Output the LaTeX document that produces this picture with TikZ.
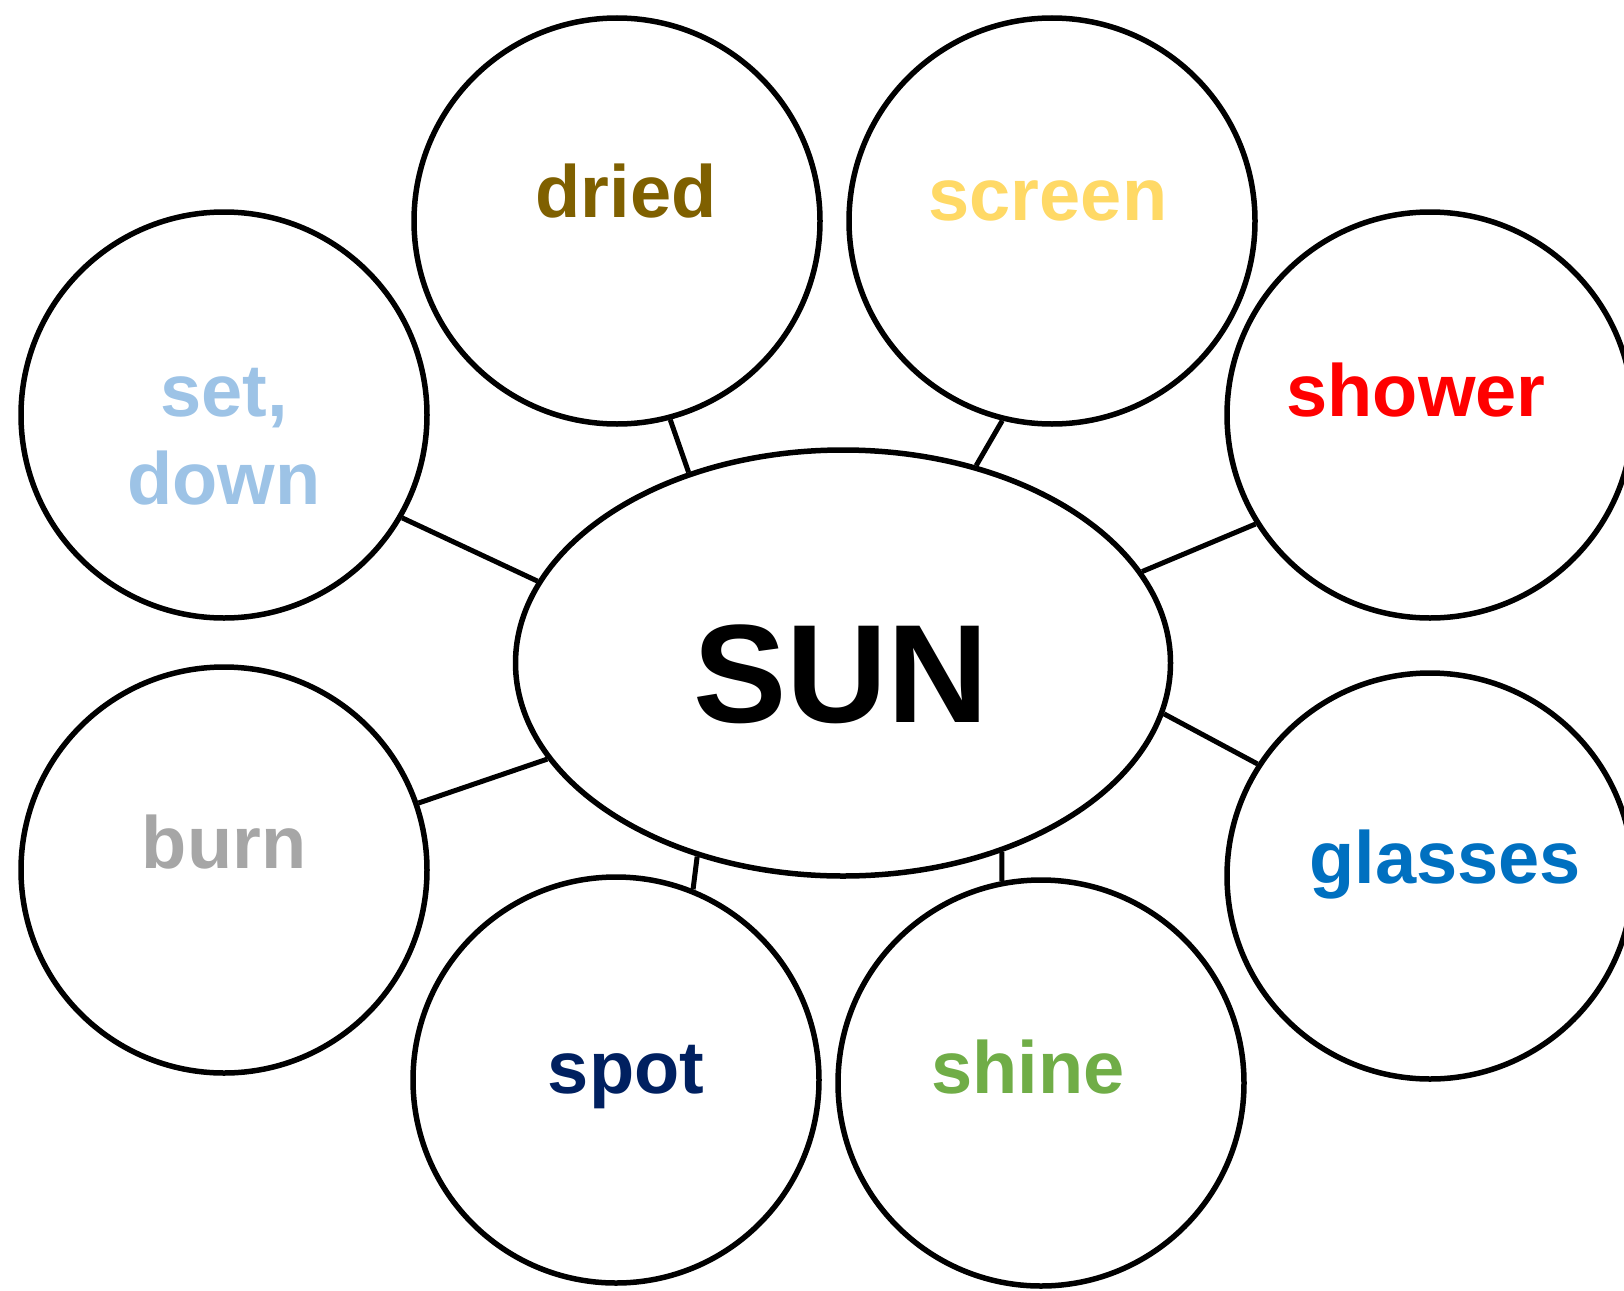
\documentclass[tikz,border=0pt]{standalone}
\usepackage{fontspec}
\setmainfont{Liberation Sans}
\usetikzlibrary{shapes.geometric}
\definecolor{cdried}{HTML}{7F6000}
\definecolor{cscreen}{HTML}{FFD966}
\definecolor{cset}{HTML}{9DC3E6}
\definecolor{cshower}{HTML}{FF0000}
\definecolor{cburn}{HTML}{A6A6A6}
\definecolor{cglasses}{HTML}{0070C0}
\definecolor{cspot}{HTML}{002060}
\definecolor{cshine}{HTML}{70AD47}
\tikzset{
  bubble/.style={circle, draw, line width=5.5pt, minimum size=406pt, inner sep=0pt},
  word/.style={anchor=base, inner sep=0pt, font=\fontsize{74}{88}\selectfont\bfseries, align=center},
  link/.style={line width=5pt},
}
\begin{document}
\begin{tikzpicture}[x=1pt,y=-1pt]
\useasboundingbox (0,0) rectangle (1624,1290);
\clip (0,0) rectangle (1624,1290);
\node[ellipse, draw, line width=5.5pt, minimum width=655pt, minimum height=426pt, inner sep=0pt] (sun) at (843,663) {};
\node[anchor=base, inner sep=0pt, font=\fontsize{140}{150}\selectfont\bfseries] (suntext) at (841,722) {SUN};

\node[bubble] (dried) at (617,221) {};
\node[bubble] (screen) at (1052,221) {};
\node[bubble] (setdown) at (224,415) {};
\node[bubble] (shower) at (1430,415) {};
\node[bubble] (burn) at (224,870) {};
\node[bubble] (glasses) at (1430,876) {};
\node[bubble] (spot) at (616,1080) {};
\node[bubble] (shine) at (1041,1083) {};

\node[word, text=cdried] (tdried) at (626,217) {dried};
\node[word, text=cscreen] (tscreen) at (1048,220) {screen};
\node[word, text=cset] (tsetdown) at (224,504) {set,\\down};
\node[word, text=cshower] (tshower) at (1416,416) {shower};
\node[word, text=cburn] (tburn) at (224,868) {burn};
\node[word, text=cglasses] (tglasses) at (1445,883) {glasses};
\node[word, text=cspot] (tspot) at (626,1093) {spot};
\node[word, text=cshine] (tshine) at (1028,1093) {shine};

\draw[link] (dried.-75) -- (sun.129);
\draw[link] (screen.-104) -- (sun.56);
\draw[link] (setdown.-30) -- (sun.165);
\draw[link] (shower.-148) -- (sun.17.5);
\draw[link] (burn.19) -- (sun.198);
\draw[link] (glasses.147) -- (sun.-9);
\draw[link] (spot.68) -- (sun.-127);
\draw[link] (shine.101) -- (sun.-50);
\end{tikzpicture}
\end{document}
